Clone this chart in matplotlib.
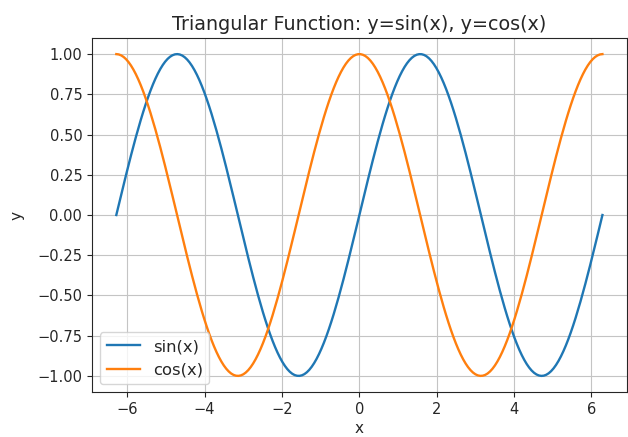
import numpy as np
import matplotlib
matplotlib.use("Agg")
import matplotlib.pyplot as plt

# x range: -2*pi .. 2*pi, curves are the named functions from the title
x = np.linspace(-2 * np.pi, 2 * np.pi, 200)
y_sin = np.sin(x)
y_cos = np.cos(x)

text_col = '#262626'
plt.rcParams['text.color'] = text_col
plt.rcParams['axes.labelcolor'] = text_col
plt.rcParams['xtick.color'] = text_col
plt.rcParams['ytick.color'] = text_col
plt.rcParams['axes.edgecolor'] = text_col
plt.rcParams['xtick.labelsize'] = 10.5
plt.rcParams['ytick.labelsize'] = 10.5

fig, ax = plt.subplots(figsize=(6.28, 4.37), dpi=100)
fig.subplots_adjust(left=0.1465, right=0.998, bottom=0.103, top=0.913)

ax.plot(x, y_sin, label='sin(x)', lw=1.7)
ax.plot(x, y_cos, label='cos(x)', lw=1.7)

ax.set_title('Triangular Function: y=sin(x), y=cos(x)', fontsize=13.8)
ax.set_xlabel('x', fontsize=11, labelpad=3)
ax.set_ylabel('y', fontsize=11, labelpad=9)
ax.grid(True, color='#c4c4c4')
ax.legend(loc='lower left', fontsize=11.8)

fig.savefig('out.png', dpi=100)
